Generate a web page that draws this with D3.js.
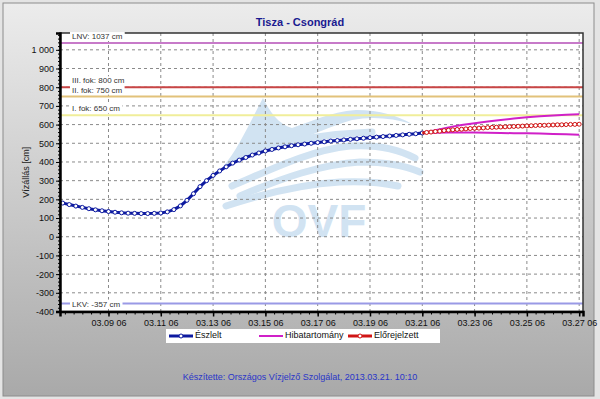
<!DOCTYPE html>
<html>
<head>
<meta charset="utf-8">
<script src="https://cdn.jsdelivr.net/npm/d3@7"></script>
<style>
  html, body { margin: 0; padding: 0; background: #fff; }
  svg { display: block; font-family: Arial, "Liberation Sans", sans-serif; }
</style>
</head>
<body>
<div id="chart"></div>
<script>
// ── Data ─────────────────────────────────────────────────────────
// observed levels, every 6 hours from 2013.03.07 12:00
const obsStart = new Date(2013, 2, 7, 12);
const observed = [
  180, 172, 164, 157, 150, 144, 139, 135, 131, 128,
  126, 125, 124, 124, 125, 127, 133, 145, 165, 195,
  230, 268, 300, 328, 352, 374, 394, 410, 424, 437,
  448, 459, 467, 475, 481, 487, 492, 496, 500, 504,
  508, 512, 515, 518, 521, 524, 527, 530, 533, 536,
  539, 542, 545, 548, 551, 555
];
// forecast, every 4 hours from 2013.03.21 06:00
const fcStart = new Date(2013, 2, 21, 6);
const forecast = [
  555, 558, 560, 563, 565, 568, 570, 572, 574, 575,
  577, 579, 580, 581, 582, 584, 585, 586, 587, 588,
  589, 590, 591, 592, 593, 594, 595, 596, 596, 597,
  598, 599, 599, 600, 601, 601, 602
];
// error band, every 12 hours from 2013.03.21 06:00
const bandUpper = [555, 570, 585, 598, 607, 616, 624, 632, 639, 644, 648, 652, 655];
const bandLower = [555, 556, 557, 557, 557, 556, 555, 554, 553, 552, 550, 548, 545];

const levels = [
  { name: "LNV: 1037 cm",     value: 1037, color: "#c77ac9" },
  { name: "III. fok: 800 cm", value: 800,  color: "#c84545" },
  { name: "II. fok: 750 cm",  value: 750,  color: "#e2c27a" },
  { name: "I. fok: 650 cm",   value: 650,  color: "#f0ee9a" },
  { name: "LKV: -357 cm",     value: -357, color: "#9a9ae6" }
];

const yTicks = d3.range(-400, 1001, 100);
const legendItems = ["Észlelt", "Hibatartomány", "Előrejelzett"];

const colors = {
  obs: "#0d1aa0",
  fc: "#d01515",
  band: "#d020c8",
  grid: "#8a8a8a",
  logo: "#cfe2f2",
  footer: "#2a36c8",
  title: "#1a1a90"
};

const W = 600, H = 399;
const plot = { left: 60, top: 33, right: 583, bottom: 311.5 };

const hour = 3600 * 1000;
const obsData = observed.map((v, i) => ({ t: new Date(+obsStart + i * 6 * hour), v }));
const fcData = forecast.map((v, i) => ({ t: new Date(+fcStart + i * 4 * hour), v }));
const upData = bandUpper.map((v, i) => ({ t: new Date(+fcStart + i * 12 * hour), v }));
const loData = bandLower.map((v, i) => ({ t: new Date(+fcStart + i * 12 * hour), v }));

const svg = d3.select("#chart").append("svg")
  .attr("width", W).attr("height", H);

// ── Background ───────────────────────────────────────────────────
const defs = svg.append("defs");
const grad = defs.append("linearGradient")
  .attr("id", "bg").attr("x1", 0).attr("y1", 0).attr("x2", 0).attr("y2", 1);
grad.append("stop").attr("offset", "0%").attr("stop-color", "#ececec");
grad.append("stop").attr("offset", "100%").attr("stop-color", "#a9a9a9");

svg.append("rect").attr("width", W).attr("height", H).attr("fill", "#e4e4e4");
svg.append("rect")
  .attr("x", 3).attr("y", 3).attr("width", 591).attr("height", 393)
  .attr("fill", "url(#bg)")
  .attr("stroke", "#8c8c8c");

defs.append("clipPath").attr("id", "clip")
  .append("rect")
  .attr("x", plot.left).attr("y", plot.top)
  .attr("width", plot.right - plot.left).attr("height", plot.bottom - plot.top);

svg.append("rect")
  .attr("x", plot.left).attr("y", plot.top)
  .attr("width", plot.right - plot.left).attr("height", plot.bottom - plot.top)
  .attr("fill", "#fff");

// ── Scales ───────────────────────────────────────────────────────
const x = d3.scaleTime()
  .domain([new Date(2013, 2, 7, 9, 30), new Date(2013, 2, 27, 9, 30)])
  .range([plot.left, plot.right]);

const y = d3.scaleLinear()
  .domain([-400, 1090])
  .range([plot.bottom, plot.top]);

const xMajor = d3.range(0, 10).map(i => new Date(2013, 2, 9 + i * 2, 6));
const xMinor = d3.range(0, 62).map(i => new Date(+new Date(2013, 2, 7, 14) + i * 8 * hour))
  .filter(d => d >= x.domain()[0] && d <= x.domain()[1]);
const yMinor = d3.range(-400, 1081, 20);

// ── Watermark logo ───────────────────────────────────────────────
const logo = svg.append("g").attr("clip-path", "url(#clip)").attr("opacity", 0.95);
logo.append("path")
  .attr("d", "M222,168 C238,150 250,122 263,98 C270,112 278,124 292,128 C310,122 330,112 356,110 C380,110 398,116 412,124 C392,118 372,116 352,120 C330,126 312,136 290,142 C268,150 246,158 222,168 Z")
  .attr("fill", colors.logo);
const waves = [
  "M232,186 C270,170 310,150 350,146 C380,144 400,150 415,158",
  "M240,196 C282,178 322,164 360,162 C388,162 406,166 420,172",
  "M226,206 C268,192 304,184 340,182 C362,181 380,182 398,186",
  "M252,150 C290,140 326,134 372,132"
];
logo.selectAll("path.wave").data(waves).enter().append("path")
  .attr("class", "wave")
  .attr("d", d => d)
  .attr("fill", "none")
  .attr("stroke", colors.logo)
  .attr("stroke-width", 7)
  .attr("stroke-linecap", "round");
logo.append("text")
  .attr("x", 319).attr("y", 237)
  .attr("text-anchor", "middle")
  .style("font-size", "46px")
  .style("font-weight", "700")
  .style("fill", colors.logo)
  .text("OVF");

// ── Grid ─────────────────────────────────────────────────────────
const grid = svg.append("g");
grid.selectAll("line.hg").data(yTicks).enter().append("line")
  .attr("x1", plot.left).attr("x2", plot.right)
  .attr("y1", d => y(d)).attr("y2", d => y(d))
  .attr("stroke", colors.grid).attr("stroke-dasharray", "3,3");
grid.selectAll("line.vg").data(xMajor).enter().append("line")
  .attr("x1", d => x(d)).attr("x2", d => x(d))
  .attr("y1", plot.top).attr("y2", plot.bottom)
  .attr("stroke", colors.grid).attr("stroke-dasharray", "3,3");

// ── Level lines ──────────────────────────────────────────────────
const lv = svg.append("g");
lv.selectAll("line").data(levels).enter().append("line")
  .attr("x1", plot.left).attr("x2", plot.right)
  .attr("y1", d => y(d.value)).attr("y2", d => y(d.value))
  .attr("stroke", d => d.color).attr("stroke-width", 2);

// ── Series ───────────────────────────────────────────────────────
const line = d3.line().x(d => x(d.t)).y(d => y(d.v));
const series = svg.append("g").attr("clip-path", "url(#clip)");

series.append("path").datum(upData)
  .attr("d", line).attr("fill", "none")
  .attr("stroke", colors.band).attr("stroke-width", 2);
series.append("path").datum(loData)
  .attr("d", line).attr("fill", "none")
  .attr("stroke", colors.band).attr("stroke-width", 2);

series.append("path").datum(obsData)
  .attr("d", line).attr("fill", "none")
  .attr("stroke", colors.obs).attr("stroke-width", 3);
series.selectAll(".dot-obs").data(obsData).enter().append("circle")
  .attr("class", "dot-obs")
  .attr("cx", d => x(d.t)).attr("cy", d => y(d.v))
  .attr("r", 2).attr("fill", "#fff")
  .attr("stroke", colors.obs).attr("stroke-width", 1);

series.append("path").datum(fcData)
  .attr("d", line).attr("fill", "none")
  .attr("stroke", colors.fc).attr("stroke-width", 3);
series.selectAll(".dot-fc").data(fcData.slice(1)).enter().append("circle")
  .attr("class", "dot-fc")
  .attr("cx", d => x(d.t)).attr("cy", d => y(d.v))
  .attr("r", 2).attr("fill", "#fff")
  .attr("stroke", colors.fc).attr("stroke-width", 1);

// ── Plot frame + axes ────────────────────────────────────────────
svg.append("rect")
  .attr("x", plot.left).attr("y", plot.top)
  .attr("width", plot.right - plot.left).attr("height", plot.bottom - plot.top)
  .attr("fill", "none").attr("stroke", "#333").attr("stroke-width", 1.5);

// level labels (white box behind)
const lbl = svg.append("g");
levels.forEach(d => {
  const ly = d.value < 0 ? y(d.value) + 1 : y(d.value) - 6;
  const t = lbl.append("text")
    .attr("x", 72).attr("y", ly)
    .attr("dominant-baseline", "middle")
    .style("font-size", "8px")
    .style("fill", "#333")
    .text(d.name);
  const bb = t.node().getBBox();
  lbl.insert("rect", "text")
    .attr("x", bb.x - 2).attr("y", bb.y)
    .attr("width", bb.width + 4).attr("height", bb.height)
    .attr("fill", "#fff");
});

const yLocale = d3.formatLocale({ decimal: ",", thousands: " ", grouping: [3], currency: ["", ""], minus: "-" });
const yFmt = yLocale.format(",");

svg.append("g")
  .attr("transform", `translate(${plot.left},0)`)
  .call(d3.axisLeft(y).tickValues(yMinor).tickSize(2).tickFormat(""))
  .call(g => g.select(".domain").remove());
svg.append("g")
  .attr("transform", `translate(${plot.left},0)`)
  .call(d3.axisLeft(y).tickValues(yTicks).tickSize(4).tickPadding(2).tickFormat(yFmt))
  .call(g => g.select(".domain").attr("stroke", "#000").attr("stroke-width", 2.5))
  .call(g => g.selectAll("text").style("font-size", "9px").style("fill", "#111"));

svg.append("g")
  .attr("transform", `translate(0,${plot.bottom})`)
  .call(d3.axisBottom(x).tickValues(xMinor).tickSize(3).tickFormat(""))
  .call(g => g.select(".domain").remove());
svg.append("g")
  .attr("transform", `translate(0,${plot.bottom})`)
  .call(d3.axisBottom(x).tickValues(xMajor).tickSize(5).tickPadding(3)
    .tickFormat(d3.timeFormat("%m.%d %H")))
  .call(g => g.select(".domain").attr("stroke", "#000").attr("stroke-width", 2.5))
  .call(g => g.selectAll("line").attr("stroke-width", 1.5))
  .call(g => g.selectAll("text").style("font-size", "9px").style("fill", "#111"));

// ── Titles ───────────────────────────────────────────────────────
svg.append("text")
  .attr("x", 300).attr("y", 26)
  .attr("text-anchor", "middle")
  .style("font-size", "11px").style("font-weight", "700")
  .style("fill", colors.title)
  .text("Tisza - Csongrád");

svg.append("text")
  .attr("transform", `translate(29,${(plot.top + plot.bottom) / 2}) rotate(-90)`)
  .attr("text-anchor", "middle")
  .style("font-size", "9px").style("fill", "#222")
  .text("Vízállás [cm]");

// ── Legend ───────────────────────────────────────────────────────
const lg = svg.append("g");
lg.append("rect")
  .attr("x", 166).attr("y", 329).attr("width", 274).attr("height", 14)
  .attr("fill", "#fff");
const legendStyle = [
  { x: 169, color: colors.obs, marker: true },
  { x: 259, color: colors.band, marker: false },
  { x: 348, color: colors.fc, marker: true }
];
legendItems.forEach((name, i) => {
  const s = legendStyle[i];
  lg.append("line")
    .attr("x1", s.x).attr("x2", s.x + 24)
    .attr("y1", 336).attr("y2", 336)
    .attr("stroke", s.color).attr("stroke-width", s.marker ? 3 : 2);
  if (s.marker) {
    lg.append("circle")
      .attr("cx", s.x + 12).attr("cy", 336).attr("r", 2)
      .attr("fill", "#fff").attr("stroke", s.color);
  }
  lg.append("text")
    .attr("x", s.x + 26).attr("y", 336)
    .attr("dominant-baseline", "middle")
    .style("font-size", "9px").style("fill", "#111")
    .text(name);
});

// ── Footer ───────────────────────────────────────────────────────
svg.append("text")
  .attr("x", 300).attr("y", 380)
  .attr("text-anchor", "middle")
  .style("font-size", "9px")
  .style("fill", colors.footer)
  .text("Készítette: Országos Vízjelző Szolgálat, 2013.03.21. 10:10");
</script>
</body>
</html>
